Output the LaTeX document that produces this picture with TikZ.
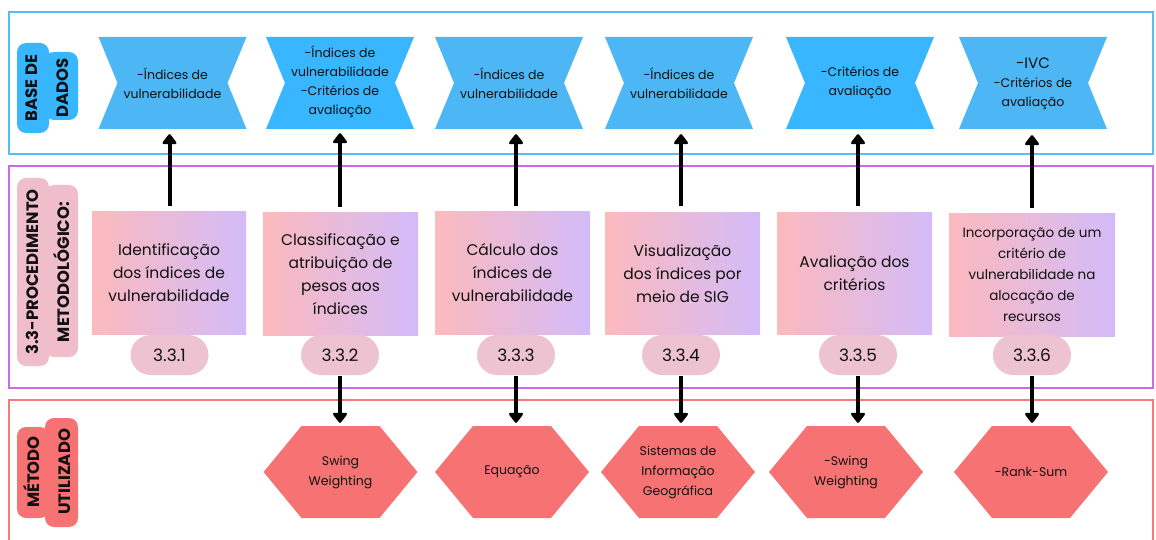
\documentclass[tikz,border=0pt]{standalone}
\usepackage{fontspec}
\setmainfont{Poppins}
\usetikzlibrary{arrows.meta}
\definecolor{frameblue}{HTML}{55BEF7}
\definecolor{framepurple}{HTML}{CB6CE6}
\definecolor{framered}{HTML}{F57B7B}
\definecolor{blueA}{HTML}{4DB6F4}
\definecolor{blueB}{HTML}{38B6FF}
\definecolor{gradL}{HTML}{FCBABD}
\definecolor{gradR}{HTML}{D3BBF9}
\definecolor{pillc}{HTML}{EDC3D1}
\definecolor{hexc}{HTML}{F77373}
\definecolor{labblue}{HTML}{38B6FF}
\definecolor{labpink}{HTML}{F0BDCB}
\definecolor{labred}{HTML}{F77373}
\definecolor{ink}{HTML}{111111}
\newcommand{\myblue}[5]{%
  \fill[#3] ({#2-74},-37) -- ({#2+74},-37) -- ({#2+55},-83) -- ({#2+74},-129) -- ({#2-74},-129) -- ({#2-55},-83) -- cycle;
  \node[btxt] (#1) at (#2,#4) {#5};}
\newcommand{\myhex}[4]{%
  \fill[hexc] ({#2-77},#3) -- ({#2-39},{#3+46}) -- ({#2+39},{#3+46}) -- ({#2+77},#3) -- ({#2+39},{#3-46}) -- ({#2-39},{#3-46}) -- cycle;
  \node[htxt] (#1) at (#2,#3) {#4};}
\begin{document}
\begin{tikzpicture}[x=1pt,y=1pt,
  frame/.style={line width=2pt},
  labtxt/.style={rotate=90, align=center, text=ink, inner sep=0pt,
    font=\fontsize{16.5}{31}\selectfont\bfseries},
  btxt/.style={minimum width=148, minimum height=92, inner sep=0pt, align=center, text=ink,
    font=\fontsize{12.5}{19}\selectfont},
  gbox/.style={minimum height=122, inner sep=0pt, align=center, text=ink,
    left color=gradL, right color=gradR, draw=none,
    font=\fontsize{15.5}{23}\selectfont},
  pill/.style={fill=pillc, rounded corners=20, minimum width=78, minimum height=40, inner sep=0pt,
    text=ink, font=\fontsize{17}{18}\selectfont},
  htxt/.style={minimum width=154, minimum height=92, inner sep=0pt, align=center, text=ink,
    font=\fontsize{12.5}{20}\selectfont},
  arr/.style={line width=4pt, -{Triangle[width=16pt,length=11pt,round]}, draw=black}
]
\useasboundingbox (0,0) rectangle (1156,-540);
% frames
\draw[frame, frameblue] (9,-12) rectangle (1153,-154);
\draw[frame, framepurple] (9,-166) rectangle (1153,-388);
\draw[frame, framered] (9,-540) -- (9,-400) -- (1153,-400) -- (1153,-540);
% side labels
\fill[labblue, rounded corners=9] (17,-43) rectangle (49,-133);
\fill[labblue, rounded corners=9] (45,-52) rectangle (78,-120);
\node[labtxt] (lab1) at (47.5,-88) {BASE DE\\DADOS};
\fill[labpink, rounded corners=9] (17,-178) rectangle (49,-366);
\fill[labpink, rounded corners=9] (45,-185) rectangle (78,-357);
\node[labtxt] (lab2) at (47.5,-272) {3.3-PROCEDIMENTO\\METODOLÓGICO:};
\fill[labred, rounded corners=9] (17,-427) rectangle (49,-518);
\fill[labred, rounded corners=9] (45,-418) rectangle (78,-527);
\node[labtxt] (lab3) at (47.5,-472) {MÉTODO\\UTILIZADO};
% data shapes
\myblue{b1}{172.5}{blueA}{-83}{-Índices de\\vulnerabilidade}
\myblue{b2}{340}{blueB}{-82}{-Índices de\\vulnerabilidade\\-Critérios de\\avaliação}
\myblue{b3}{509}{blueA}{-83}{-Índices de\\vulnerabilidade}
\myblue{b4}{679}{blueA}{-83}{-Índices de\\vulnerabilidade}
\myblue{b5}{860}{blueB}{-83}{-Critérios de\\avaliação}
\myblue{b6}{1033}{blueA}{-84}{{\fontsize{15}{19}\selectfont -IVC}\\-Critérios de\\avaliação}
% procedure boxes
\node[gbox, minimum width=154] (g1) at (169,-273) {Identificação\\dos índices de\\vulnerabilidade};
\node[gbox, minimum width=155] (g2) at (340.5,-274) {Classificação e\\atribuição de\\pesos aos\\índices};
\node[gbox, minimum width=155] (g3) at (512.5,-273) {Cálculo dos\\índices de\\vulnerabilidade};
\node[gbox, minimum width=155] (g4) at (682.5,-273.5) {Visualização\\dos índices por\\meio de SIG};
\node[gbox, minimum width=155] (g5) at (854.5,-273.5) {Avaliação dos\\critérios};
\node[gbox, minimum width=166, font=\fontsize{13.5}{21}\selectfont] (g6) at (1032,-275) {Incorporação de um\\critério de\\vulnerabilidade na\\alocação de\\recursos};
% pills
\node[pill] (p1) at (169.5,-355) {3.3.1};
\node[pill] (p2) at (340,-355) {3.3.2};
\node[pill] (p3) at (516,-355) {3.3.3};
\node[pill] (p4) at (681,-355) {3.3.4};
\node[pill] (p5) at (858,-355) {3.3.5};
\node[pill] (p6) at (1032,-355) {3.3.6};
% methods
\myhex{h2}{340.5}{-472}{Swing\\Weighting}
\myhex{h3}{512}{-472}{Equação}
\myhex{h4}{678}{-472}{Sistemas de\\Informação\\Geográfica}
\myhex{h5}{846}{-472}{-Swing\\Weighting}
\myhex{h6}{1031}{-472}{-Rank-Sum}
% arrows up
\foreach \i in {1,...,6}{
  \draw[arr, shorten <=6pt, shorten >=5pt] (p\i |- g\i.north) -- (p\i |- b\i.south);
}
% arrows down
\foreach \i in {2,...,6}{
  \draw[arr, shorten <=1pt, shorten >=3pt] (p\i.south) -- (p\i |- h\i.north);
}
\end{tikzpicture}
\end{document}
